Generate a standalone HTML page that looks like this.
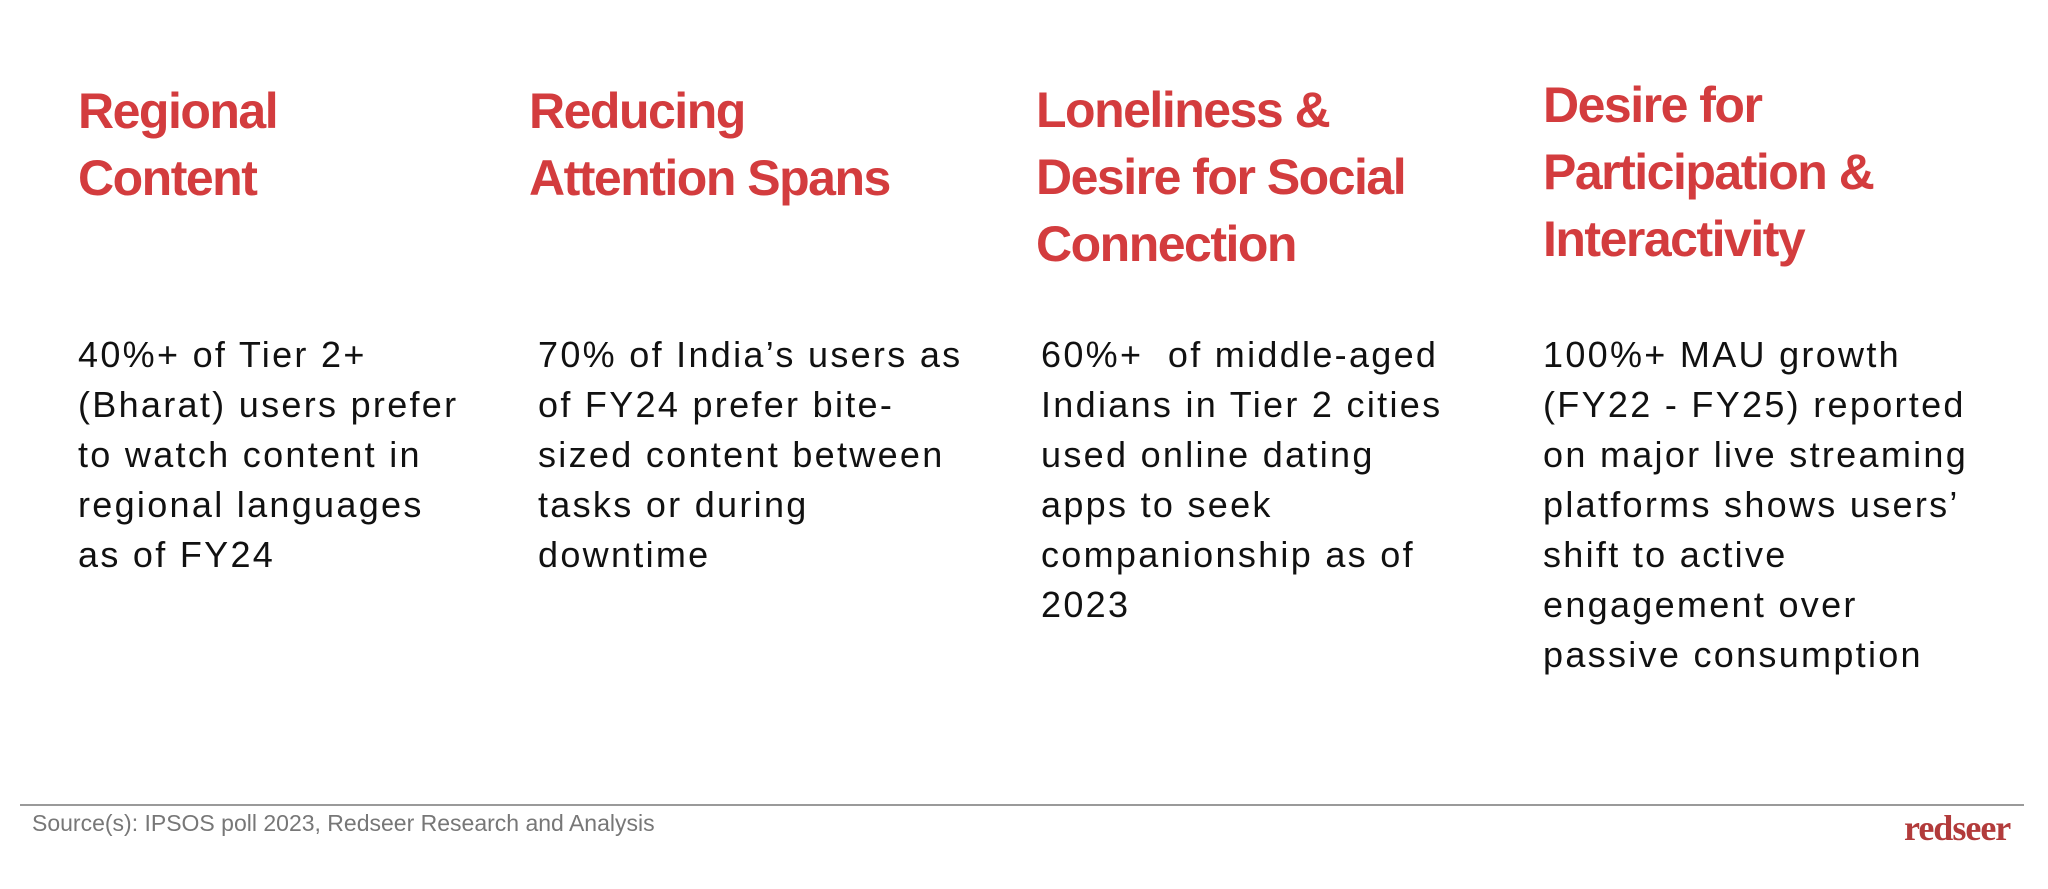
<!DOCTYPE html>
<html><head><meta charset="utf-8"><style>
html,body{margin:0;padding:0;background:#fff;}
body{width:2048px;height:889px;position:relative;overflow:hidden;font-family:"Liberation Sans",sans-serif;}
.h{position:absolute;font-weight:bold;font-size:50px;line-height:67px;color:#d33c3e;letter-spacing:-1.5px;white-space:nowrap;}
.b{position:absolute;font-size:36px;line-height:50px;color:#111;letter-spacing:2.3px;white-space:nowrap;top:329.5px;}
.line{position:absolute;left:20px;top:804px;width:2004px;height:2px;background:#9a9a9a;}
.src{position:absolute;left:32px;top:812px;font-size:23px;line-height:23px;color:#777;white-space:nowrap;}
.logo{position:absolute;left:1904px;top:810px;font-family:"Liberation Serif",serif;font-weight:bold;font-size:36px;line-height:36px;color:#b23b3b;letter-spacing:-1px;}
</style></head><body>
<div class="h" style="left:78px;top:78px">Regional<br>Content</div>
<div class="h" style="left:529px;top:78px">Reducing<br>Attention Spans</div>
<div class="h" style="left:1036px;top:77px">Loneliness &amp;<br>Desire for Social<br>Connection</div>
<div class="h" style="left:1543px;top:72px">Desire for<br>Participation &amp;<br>Interactivity</div>

<div class="b" style="left:78px">40%+ of Tier 2+<br>(Bharat) users prefer<br>to watch content in<br>regional languages<br>as of FY24</div>
<div class="b" style="left:538px">70% of India’s users as<br>of FY24 prefer bite-<br>sized content between<br>tasks or during<br>downtime</div>
<div class="b" style="left:1041px">60%+&nbsp; of middle-aged<br>Indians in Tier 2 cities<br>used online dating<br>apps to seek<br>companionship as of<br>2023</div>
<div class="b" style="left:1543px">100%+ MAU growth<br>(FY22 - FY25) reported<br>on major live streaming<br>platforms shows users’<br>shift to active<br>engagement over<br>passive consumption</div>

<div class="line"></div>
<div class="src">Source(s): IPSOS poll 2023, Redseer Research and Analysis</div>
<div class="logo">redseer</div>
</body></html>
